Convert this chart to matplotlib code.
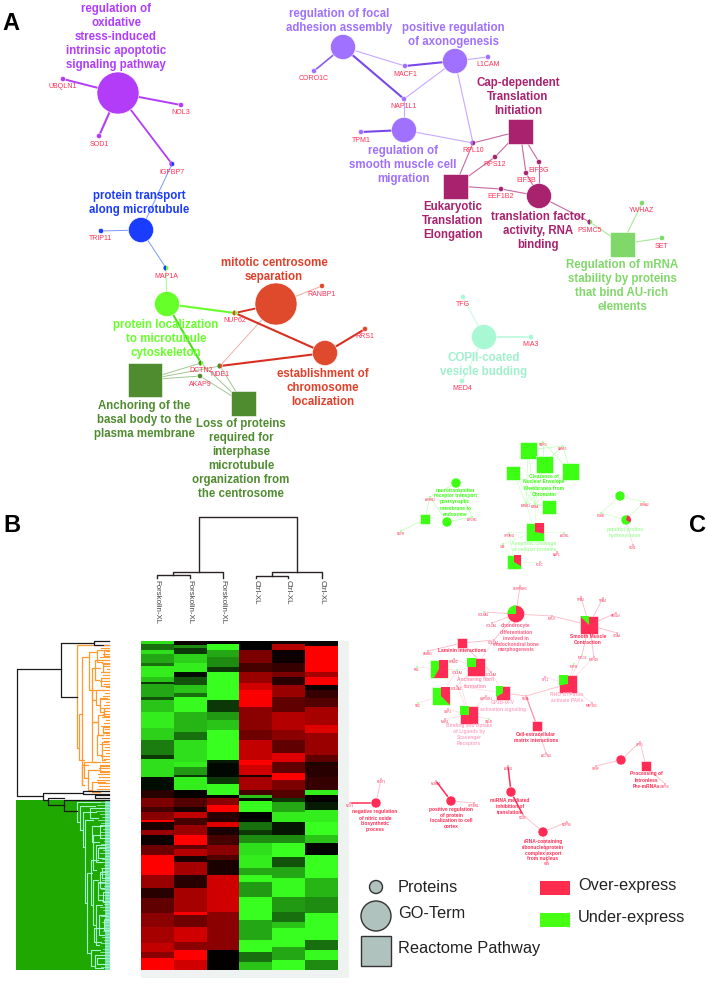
import numpy as np
import matplotlib
matplotlib.use('Agg')
import matplotlib.pyplot as plt
from matplotlib.colors import LinearSegmentedColormap
from matplotlib.patches import Circle, Rectangle, Wedge

plt.rcParams['font.family'] = ['Liberation Sans', 'DejaVu Sans']

PINK = '#ff2f55'

# ---- panel A network (picture pixels)
purple = '#b23cf8'
blue = '#1a3cff'
lime = '#66ff2a'
orange_red = '#df4a2c'
olive = '#4f8c30'
violet = '#a070ff'
magenta = '#a8226e'
soft_green = '#80d86a'
mint = '#a8f8d4'

a_terms = [
    ('ox', 118, 93, 21, 'o', purple), ('mt', 141, 230, 12.5, 'o', blue),
    ('loc', 167, 304, 12.5, 'o', lime), ('cen', 276, 304, 21, 'o', orange_red),
    ('chr', 325, 353, 12.5, 'o', orange_red), ('anc', 145, 380, 17, 's', olive),
    ('loss', 243, 403, 12.5, 's', olive), ('foc', 343, 47, 12.5, 'o', violet),
    ('axo', 455, 61, 12.5, 'o', violet), ('smo', 404, 130, 12.5, 'o', violet),
    ('cap', 520, 131, 12.5, 's', magenta), ('euk', 455, 186, 12.5, 's', magenta),
    ('tf', 539, 196, 12.5, 'o', magenta), ('mrna', 622, 244, 12.5, 's', soft_green),
    ('cop', 484, 337, 12.5, 'o', mint),
]
a_proteins = [
    ('UBQLN1', 63, 79, purple, None), ('NOL3', 181, 105, purple, None),
    ('SOD1', 99, 136, purple, None), ('IGFBP7', 172, 164, blue, purple),
    ('TRIP11', 101, 231, blue, None), ('MAP1A', 166, 268, lime, blue),
    ('RANBP1', 322, 286, orange_red, None), ('RRS1', 365, 329, orange_red, None),
    ('NUP62', 235, 313, lime, orange_red), ('DCTN2', 201, 363, lime, olive),
    ('NDE1', 220, 366, orange_red, olive), ('AKAP9', 200, 376, olive, None),
    ('CORO1C', 314, 71, violet, None), ('L1CAM', 488, 57, violet, None),
    ('MACF1', 405, 66, violet, None), ('NAP1L1', 404, 99, violet, None),
    ('TPM1', 361, 132, violet, None), ('RPL10', 473, 143, magenta, violet),
    ('RPS12', 495, 157, magenta, None), ('EIF3G', 539, 162, magenta, None),
    ('EIF3B', 526, 173, magenta, None), ('EEF1B2', 501, 189, magenta, None),
    ('PSMC5', 590, 222, soft_green, magenta), ('YWHAZ', 642, 203, soft_green, None),
    ('SET', 662, 238, soft_green, None), ('TFG', 463, 297, mint, None),
    ('MIA3', 531, 337, mint, None), ('MED4', 462, 381, mint, None),
]
a_edges = [
    ('ox', 'UBQLN1', 1.4, purple), ('ox', 'NOL3', 1.4, purple), ('ox', 'SOD1', 1.5, purple),
    ('ox', 'IGFBP7', 1.3, purple), ('mt', 'IGFBP7', 0.7, '#7d96ff'), ('mt', 'TRIP11', 0.7, '#7d96ff'),
    ('mt', 'MAP1A', 0.7, '#7d96ff'), ('loc', 'MAP1A', 0.9, '#b8f8a0'), ('loc', 'NUP62', 1.5, lime),
    ('loc', 'DCTN2', 1.5, '#4fdd22'), ('cen', 'NUP62', 1.4, '#d83020'), ('cen', 'RANBP1', 0.7, '#f4a898'),
    ('cen', 'NDE1', 0.6, '#f4a0a0'), ('chr', 'NUP62', 1.5, '#d83020'), ('chr', 'NDE1', 1.5, '#d83020'),
    ('chr', 'RRS1', 1.5, '#d83020'), ('anc', 'DCTN2', 0.7, '#a0c890'), ('anc', 'NDE1', 0.7, '#a0c890'),
    ('anc', 'AKAP9', 0.7, '#a0c890'), ('loss', 'DCTN2', 0.7, '#a0c890'), ('loss', 'NDE1', 0.7, '#a0c890'),
    ('loss', 'AKAP9', 0.7, '#a0c890'), ('foc', 'CORO1C', 1.2, '#8a5af0'), ('foc', 'MACF1', 0.8, '#c8a8ff'),
    ('foc', 'NAP1L1', 1.5, '#7848e8'), ('axo', 'MACF1', 1.5, '#7848e8'), ('axo', 'NAP1L1', 0.8, '#c8a8ff'),
    ('axo', 'L1CAM', 0.8, '#c8a8ff'), ('axo', 'RPL10', 0.8, '#c8a8ff'), ('smo', 'NAP1L1', 0.8, '#c8a8ff'),
    ('smo', 'TPM1', 1.5, '#7848e8'), ('smo', 'RPL10', 0.8, '#c8a8ff'), ('cap', 'RPL10', 0.8, '#c868a0'),
    ('cap', 'RPS12', 0.8, '#c868a0'), ('cap', 'EIF3B', 0.8, '#c868a0'), ('cap', 'EIF3G', 0.8, '#c868a0'),
    ('euk', 'RPL10', 0.8, '#c868a0'), ('euk', 'RPS12', 0.8, '#c868a0'), ('euk', 'EEF1B2', 0.8, '#c868a0'),
    ('tf', 'EEF1B2', 0.8, '#c868a0'), ('tf', 'EIF3B', 0.8, '#c868a0'), ('tf', 'EIF3G', 0.8, '#c868a0'),
    ('tf', 'PSMC5', 0.8, '#c868a0'), ('mrna', 'PSMC5', 0.8, '#a8e898'), ('mrna', 'YWHAZ', 0.8, '#a8e898'),
    ('mrna', 'SET', 0.8, '#a8e898'), ('cop', 'TFG', 0.8, '#c8fbe4'), ('cop', 'MIA3', 1.2, '#b8f9dc'),
    ('cop', 'MED4', 0.8, '#c8fbe4'),
]
a_labels = [
    ('regulation of\noxidative\nstress-induced\nintrinsic apoptotic\nsignaling pathway', 116, 37, '#b03cff'),
    ('protein transport\nalong microtubule', 139, 203, '#1a3cff'),
    ('protein localization\nto microtubule\ncytoskeleton', 166, 339, '#66ff2a'),
    ('mitotic centrosome\nseparation', 274, 270, '#e0402a'),
    ('establishment of\nchromosome\nlocalization', 323, 388, '#e0402a'),
    ('Anchoring of the\nbasal body to the\nplasma membrane', 144, 420, '#4f8c30'),
    ('Loss of proteins\nrequired for\ninterphase\nmicrotubule\norganization from\nthe centrosome', 241, 459, '#4f8c30'),
    ('regulation of focal\nadhesion assembly', 339, 21, '#a070ff'),
    ('positive regulation\nof axonogenesis', 453, 35, '#a070ff'),
    ('regulation of\nsmooth muscle cell\nmigration', 403, 165, '#a070ff'),
    ('Cap-dependent\nTranslation\nInitiation', 518, 97, '#a8226e'),
    ('Eukaryotic\nTranslation\nElongation', 453, 221, '#a8226e'),
    ('translation factor\nactivity, RNA\nbinding', 538, 231, '#a8226e'),
    ('Regulation of mRNA\nstability by proteins\nthat bind AU-rich\nelements', 622, 286, '#80d86a'),
    ('COPII-coated\nvesicle budding', 484, 365, '#a0f0cc'),
]

# ---- panel C network
green = '#3cff14'
red = '#ff2d55'

# name, x, y, half size, shape, base colour, wedge start, wedge end, wedge colour
c_terms = [
    ('n1', 456, 483, 5, 'o', green, 0, 0, None), ('n2', 447, 522, 5, 'o', green, 0, 0, None),
    ('n3', 425, 519, 5, 's', green, 0, 0, None), ('k1', 528, 450, 8.5, 's', green, 0, 0, None),
    ('k2', 544, 464, 8.5, 's', green, 0, 0, None), ('k3', 570, 471, 8.5, 's', green, 0, 0, None),
    ('k4', 513, 473, 7, 's', green, 0, 0, None), ('k5', 549, 507, 7, 's', green, 0, 0, None),
    ('ap1', 535, 532, 8.7, 's', green, -90, 10, red), ('ap2', 514, 562, 7, 's', green, -90, 30, red),
    ('pe1', 620, 496, 5, 'o', green, 0, 0, None), ('pe2', 626, 520, 5, 'o', green, -75, 30, red),
    ('ch', 516, 614, 8.7, 'o', red, 180, 270, green), ('sm', 589, 625, 8.7, 's', red, 225, 270, green),
    ('la', 462, 643, 5, 's', red, 0, 0, None), ('sa', 439, 669, 8.7, 's', green, -90, 120, red),
    ('sb', 476, 667, 8.7, 's', red, 180, 270, green), ('sc', 441, 696, 8.7, 's', green, -90, 45, red),
    ('sd', 503, 693, 7, 's', red, 150, 270, green), ('se', 469, 715, 8.7, 's', red, 180, 270, green),
    ('rh', 568, 684, 8.7, 's', red, 170, 270, green), ('ce', 537, 726, 5, 's', red, 0, 0, None),
    ('ni', 376, 803, 5, 'o', red, 0, 0, None), ('pr', 451, 801, 5, 'o', red, 0, 0, None),
    ('mi', 511, 792, 5, 'o', red, 0, 0, None), ('rn', 543, 832, 5, 'o', red, 0, 0, None),
    ('in', 621, 760, 5, 'o', red, 0, 0, None), ('ip', 646, 766, 5, 's', red, 0, 0, None),
]
c_proteins = [
    ('ARRB2', 430, 497, green), ('AP2M1', 472, 517, green), ('EGFR', 401, 531, green),
    ('TMPO', 543, 442, green), ('BANF1', 563, 446, green), ('LMNB1', 526, 503, green),
    ('LMNA', 535, 504, green), ('SPTAN1', 509, 533, green), ('ACIN1', 564, 533, green),
    ('VIM', 503, 544, green), ('BAP1', 557, 552, red), ('PLEC', 540, 562, red),
    ('P4HA2', 644, 502, green), ('P4HB', 601, 513, green), ('CD81', 633, 545, red),
    ('SERPINH1', 520, 586, red), ('COL8A1', 484, 612, green), ('COL2A1', 492, 623, red),
    ('MYL9', 552, 616, red), ('TPM2', 581, 597, red), ('TPM4', 603, 598, red),
    ('TAGLN', 616, 613, red), ('ITGA1', 617, 633, red), ('MYL12', 582, 655, green),
    ('MYH10', 594, 657, red), ('LAMB1', 428, 651, red), ('COL5A1', 494, 640, red),
    ('FN1', 417, 667, green), ('SPARC', 454, 659, red), ('COL1A1', 457, 670, green),
    ('COL4A2', 457, 686, red), ('COL6A3', 491, 672, red), ('HSP90B1', 486, 696, red),
    ('GBP1', 448, 709, red), ('MSR1', 445, 719, red), ('CALR', 489, 719, green),
    ('TNC', 418, 703, green), ('FLNA', 526, 696, red), ('CFL1', 545, 677, red),
    ('MAP2K1', 592, 703, red), ('MYH9', 574, 664, green), ('ACTN4', 546, 753, red),
    ('NOS1', 350, 803, red), ('FLOT1', 381, 779, red), ('NUMA1', 436, 781, red),
    ('SPTBN1', 474, 803, red), ('AGO1', 508, 766, red), ('DDX6', 523, 815, red),
    ('NUP98', 567, 822, red), ('RAN', 547, 861, red), ('UPF1', 640, 742, red),
    ('SRSF', 596, 766, red), ('UAP56', 665, 784, red),
]
c_edges = [
    ('n1', 'ARRB2', 0.5, '#b8ffb0'), ('n2', 'ARRB2', 0.5, '#b8ffb0'), ('n3', 'ARRB2', 0.5, '#b8ffb0'),
    ('n1', 'AP2M1', 0.5, '#b8ffb0'), ('n2', 'AP2M1', 0.5, '#b8ffb0'), ('n3', 'EGFR', 0.5, '#b8ffb0'),
    ('k1', 'TMPO', 0.5, '#b8ffb0'), ('k2', 'TMPO', 0.5, '#b8ffb0'), ('k3', 'TMPO', 0.5, '#b8ffb0'),
    ('k1', 'BANF1', 0.5, '#b8ffb0'), ('k2', 'BANF1', 0.5, '#b8ffb0'), ('k3', 'BANF1', 0.5, '#b8ffb0'),
    ('k1', 'LMNB1', 0.5, '#c8ffc0'), ('k2', 'LMNB1', 0.5, '#c8ffc0'), ('k3', 'LMNB1', 0.5, '#c8ffc0'),
    ('k4', 'LMNB1', 0.5, '#c8ffc0'), ('k5', 'LMNB1', 0.5, '#c8ffc0'), ('k1', 'LMNA', 0.5, '#c8ffc0'),
    ('k2', 'LMNA', 0.5, '#c8ffc0'), ('k3', 'LMNA', 0.5, '#c8ffc0'), ('k4', 'LMNA', 0.5, '#c8ffc0'),
    ('k5', 'LMNA', 0.5, '#c8ffc0'), ('ap1', 'LMNB1', 0.5, '#d8ffd0'), ('ap1', 'LMNA', 0.5, '#d8ffd0'),
    ('ap1', 'SPTAN1', 0.5, '#d8ffd0'), ('ap1', 'ACIN1', 0.5, '#d8ffd0'), ('ap1', 'VIM', 0.5, '#d8ffd0'),
    ('ap1', 'BAP1', 0.5, '#d8ffd0'), ('ap2', 'VIM', 0.5, '#d8ffd0'), ('ap2', 'SPTAN1', 0.5, '#d8ffd0'),
    ('ap2', 'PLEC', 0.5, '#d8ffd0'), ('pe1', 'P4HA2', 0.5, '#c8ffc0'), ('pe1', 'P4HB', 0.5, '#c8ffc0'),
    ('pe2', 'P4HA2', 0.5, '#c8ffc0'), ('pe2', 'P4HB', 0.5, '#c8ffc0'), ('pe2', 'CD81', 0.5, '#ffd0dc'),
    ('ch', 'SERPINH1', 0.6, '#ffb8c8'), ('ch', 'COL8A1', 0.6, '#ffb8c8'), ('ch', 'COL2A1', 0.6, '#ffb8c8'),
    ('ch', 'MYL9', 0.6, '#ffb8c8'), ('ch', 'COL5A1', 0.6, '#ffb8c8'), ('sm', 'MYL9', 0.6, '#ffb8c8'),
    ('sm', 'TPM2', 0.6, '#ffb8c8'), ('sm', 'TPM4', 0.6, '#ffb8c8'), ('sm', 'TAGLN', 0.6, '#ffb8c8'),
    ('sm', 'ITGA1', 0.6, '#ffb8c8'), ('sm', 'MYL12', 0.6, '#ffb8c8'), ('sm', 'MYH10', 0.6, '#ffb8c8'),
    ('la', 'LAMB1', 0.6, '#ffb8c8'), ('la', 'COL5A1', 0.6, '#ffb8c8'), ('la', 'COL6A3', 0.6, '#ffb8c8'),
    ('sa', 'FN1', 0.5, '#ffd8e0'), ('sa', 'SPARC', 0.5, '#ffd8e0'), ('sa', 'COL1A1', 0.5, '#ffd8e0'),
    ('sb', 'SPARC', 0.5, '#ffd8e0'), ('sb', 'COL1A1', 0.5, '#ffd8e0'), ('sb', 'COL6A3', 0.5, '#ffd8e0'),
    ('sb', 'COL4A2', 0.5, '#ffd8e0'), ('sb', 'COL5A1', 0.5, '#ffd8e0'), ('sc', 'TNC', 0.5, '#ffd8e0'),
    ('sc', 'COL1A1', 0.5, '#ffd8e0'), ('sc', 'COL4A2', 0.5, '#ffd8e0'), ('sd', 'COL4A2', 0.5, '#ffd8e0'),
    ('sd', 'FLNA', 0.6, '#ffb8c8'), ('sd', 'COL6A3', 0.5, '#ffd8e0'), ('se', 'COL4A2', 0.5, '#ffd8e0'),
    ('se', 'COL1A1', 0.5, '#ffd8e0'), ('se', 'HSP90B1', 0.5, '#ffd8e0'), ('se', 'GBP1', 0.5, '#ffd8e0'),
    ('se', 'MSR1', 0.5, '#ffd8e0'), ('se', 'CALR', 0.5, '#ffd8e0'), ('rh', 'FLNA', 0.6, '#ffb8c8'),
    ('rh', 'CFL1', 0.5, '#ffd8e0'), ('rh', 'MAP2K1', 0.5, '#ffd8e0'), ('rh', 'MYH9', 0.5, '#ffd8e0'),
    ('rh', 'MYL12', 0.5, '#ffd8e0'), ('rh', 'MYH10', 0.5, '#ffd8e0'), ('ce', 'FLNA', 0.9, '#ff90a8'),
    ('ce', 'ACTN4', 0.6, '#ffb8c8'), ('ni', 'NOS1', 1.1, red), ('ni', 'FLOT1', 0.6, '#ffb8c8'),
    ('pr', 'NUMA1', 1.1, red), ('pr', 'SPTBN1', 0.6, '#ffb8c8'), ('mi', 'AGO1', 1.1, red),
    ('mi', 'DDX6', 1.1, red), ('rn', 'DDX6', 0.6, '#ffb8c8'), ('rn', 'NUP98', 0.6, '#ffb8c8'),
    ('rn', 'RAN', 0.6, '#ffb8c8'), ('in', 'UPF1', 0.6, '#ffb8c8'), ('in', 'SRSF', 0.6, '#ffb8c8'),
    ('ip', 'UPF1', 0.6, '#ffb8c8'), ('ip', 'UAP56', 0.6, '#ffb8c8'),
]
c_labels = [
    ('neurotransmitter\nreceptor transport\npostsynaptic\nmembrane to\nendosome', 455, 502, '#3cff14'),
    ('Clearance of\nNuclear Envelope\nMembranes from\nChromatin', 544, 485, '#3cff14'),
    ('Apoptotic cleavage\nof cellular proteins', 534, 547, '#a8ffa0'),
    ('peptidyl-proline\nhydroxylation', 625, 532, '#a8ffa0'),
    ('chondrocyte\ndifferentiation\ninvolved in\nendochondral bone\nmorphogenesis', 516, 638, '#ff5c80'),
    ('Smooth Muscle\nContraction', 588, 640, '#ff3058'),
    ('Laminin interactions', 462, 651, '#ff2d55'),
    ('Anchoring fibril\nformation', 475, 683, '#ff90b0'),
    ('GP1b-IX-V\nactivation signaling', 503, 706, '#ffa8c4'),
    ('Binding and Uptake\nof Ligands by\nScavenger\nReceptors', 469, 735, '#ffa8c4'),
    ('RHO GTPases\nactivate PAKs', 567, 698, '#ffa8c4'),
    ('Cell-extracellular\nmatrix interactions', 536, 737, '#ff2d55'),
    ('negative regulation\nof nitric oxide\nbiosynthetic\nprocess', 375, 821, '#ff2d55'),
    ('positive regulation\nof protein\nlocalization to cell\ncortex', 451, 818, '#ff2d55'),
    ('miRNA mediated\ninhibition of\ntranslation', 510, 806, '#ff2d55'),
    ('rRNA-containing\nribonucleoprotein\ncomplex export\nfrom nucleus', 543, 850, '#ff2d55'),
    ('Processing of\nIntronless\nPre-mRNAs', 646, 780, '#ff2d55'),
]

# ---- panel B heatmap, bands per column: row where band ends, then value
sample_names = ['Forskolin-XL', 'Forskolin-XL', 'Forskolin-XL', 'Ctrl-XL', 'Ctrl-XL', 'Ctrl-XL']
col1_ends = [3, 9, 13, 22, 25, 36, 41, 43, 56, 59, 71, 87, 99, 114, 118, 136, 149, 157, 166, 171, 179, 181, 189, 194, 204, 214, 234, 247, 257, 272, 286, 302, 311, 317, 329]
col1_vals = [-.8, -.4, -.8, -.6, -.4, -.85, -.7, -.2, -.6, -.3, -.7, -.85, -.75, -.45, -.2, -.8, -.05, .15, .45, .25, .5, .9, .1, .55, .05, .4, 1, .55, .15, .35, .5, .6, .7, .5, 1]
col2_ends = [4, 7, 13, 22, 31, 36, 44, 52, 56, 71, 91, 99, 121, 126, 134, 136, 149, 157, 166, 171, 177, 184, 194, 204, 208, 215, 221, 234, 247, 271, 274, 286, 301, 309, 319, 329]
col2_vals = [.05, -.5, -.2, -.75, -.85, -.05, -.3, -.7, -.4, -.9, -.65, -.4, -.8, -.85, -.55, -.2, -.85, .02, .3, .1, .7, .25, .55, 1, .35, .65, .1, .6, .15, .6, .9, .4, .75, .5, 1, .75]
col3_ends = [3, 9, 16, 26, 31, 59, 71, 79, 89, 119, 122, 136, 143, 154, 157, 164, 171, 181, 186, 194, 204, 214, 219, 234, 251, 271, 309, 329]
col3_vals = [.02, -.9, -.6, -.5, -.2, -.95, -.2, -.55, -.7, -.95, -.1, -.03, -.2, -.9, .02, .5, .95, .15, .8, .1, .25, .5, .3, .1, .75, .75, .5, .01]
col4_ends = [9, 22, 31, 42, 49, 66, 89, 99, 119, 124, 134, 136, 149, 154, 157, 160, 171, 181, 189, 194, 202, 214, 227, 234, 241, 256, 279, 299, 311, 321, 329]
col4_vals = [0, .45, .25, .55, .75, .9, .5, .4, .7, .95, .75, .1, .6, .25, -.7, -.05, -.9, 0, -.4, -.2, -.5, -.8, -.85, -.6, -.9, -.55, -.95, -.6, -.95, -.4, -.7]
col5_ends = [3, 9, 22, 31, 36, 44, 56, 71, 89, 99, 112, 121, 132, 139, 149, 157, 161, 171, 181, 194, 202, 216, 226, 237, 256, 271, 281, 287, 306, 319, 329]
col5_vals = [.05, .65, .05, .2, .45, .15, .55, .35, .65, .5, .35, .8, .35, 1, .45, .3, -.2, -.6, -.85, -.08, -.5, -.95, -.3, -.6, -.9, -.55, -.4, -.7, -.95, -.6, -.95]
col6_ends = [5, 31, 36, 44, 49, 57, 66, 84, 92, 114, 121, 124, 136, 149, 154, 161, 169, 181, 194, 202, 214, 237, 256, 272, 299, 309, 319, 329]
col6_vals = [.05, 1, .6, .9, .05, .2, .3, .6, .8, .55, .35, .1, .15, .2, -.85, .02, -.1, -.85, -.95, -.7, -.02, -.95, -.65, -.5, -.95, -.4, -.9, -.5]

# ---- dendrogram brackets: x, top y, bottom y, top arm end, bottom arm end
orange_brackets = [
    (77, 645, 748, 100, 79), (79, 714, 760, 82, 84), (82, 657, 785, 89, 84), (89, 652, 690, 97, 92),
    (92, 668, 700, 100, 95), (95, 660, 680, 105, 99), (97, 650, 662, 105, 102), (92, 690, 722, 96, 98),
    (96, 690, 705, 104, 100), (100, 698, 712, 107, 104), (98, 715, 735, 104, 103), (92, 722, 762, 97, 100),
    (97, 735, 755, 103, 102), (102, 742, 760, 108, 105), (82, 765, 785, 88, 84), (84, 762, 778, 95, 88),
    (88, 770, 790, 100, 92), (92, 782, 792, 105, 100), (100, 766, 772, 109, 109), (104, 650, 656, 109, 109),
    (103, 664, 672, 109, 109), (101, 678, 686, 109, 109), (104, 708, 716, 109, 109), (103, 727, 733, 109, 109),
]
teal_brackets = [
    (77, 802, 822, 100, 80), (80, 806, 830, 95, 83), (83, 812, 847, 96, 85), (85, 820, 903, 93, 87),
    (87, 873, 953, 92, 91), (91, 860, 905, 98, 93), (93, 835, 870, 100, 96), (96, 845, 862, 105, 102),
    (93, 880, 925, 98, 96), (98, 882, 900, 105, 103), (96, 905, 945, 102, 99), (99, 915, 935, 106, 104),
    (91, 950, 966, 100, 95), (95, 955, 968, 104, 103), (100, 825, 838, 109, 109), (102, 868, 878, 109, 109),
    (103, 892, 902, 109, 109), (104, 920, 930, 109, 109), (90, 808, 818, 104, 98), (92, 826, 842, 102, 99),
    (98, 848, 858, 106, 104), (100, 872, 888, 107, 104), (94, 928, 942, 103, 101), (97, 958, 964, 106, 104),
]
black_brackets = [
    (17, 669, 796, 61, 43), (61, 643, 697, 94, 77), (94, 641, 645, 109, 109), (43, 793, 800, 83, 48),
    (48, 798, 805, 64, 64), (64, 800, 811, 109, 77), (83, 791, 794, 109, 109), (95, 795, 798, 109, 109),
]
orange_leaf_starts = [104, 101, 106, 103, 100, 105, 102, 104, 107, 101, 103, 105, 100, 104, 106, 102, 105, 103, 101, 106, 104, 100, 105, 103, 102, 106, 104, 101, 105, 103, 106, 102, 104, 100, 105, 103, 106, 101, 104, 102, 100, 99, 100, 98, 99, 97, 98, 99, 97]
teal_leaf_starts = [100, 97, 99, 96, 100, 102, 98, 101, 99, 103, 100, 98, 102, 104, 101, 99, 103, 100, 105, 102, 99, 104, 101, 103, 100, 105, 102, 98, 104, 101, 103, 99, 105, 102, 104, 100, 103, 106, 101, 104, 102, 105, 100, 103, 106, 102, 104, 101, 105, 103, 100, 104, 102, 106, 103, 101]

# ---- legend
legend_shapes = [('Proteins', 376, 887, 6.5, 'o'), ('GO-Term', 376, 916, 15, 'o'), ('Reactome Pathway', 376, 951, 15, 's')]
legend_bars = [('Over-express', 881, '#ff2d4d'), ('Under-express', 913, '#46ff14')]

fig = plt.figure(figsize=(7.07, 9.83), dpi=100)
ax = fig.add_axes([0, 0, 1, 1])
ax.set_axis_off()


def draw_node(x, y, half, shape, color, theta1=0, theta2=0, wedge_color=None, z=4):
    if shape == 'o':
        patch = Circle((x, y), half, fc=color, ec='white', lw=0.4, zorder=z)
    else:
        patch = Rectangle((x - half, y - half), 2 * half, 2 * half, fc=color, ec='white', lw=0.4, zorder=z)
    ax.add_patch(patch)
    if wedge_color is not None:
        w = Wedge((x, y), half * 1.6, theta1, theta2, fc=wedge_color, ec='none', zorder=z + 0.1)
        ax.add_patch(w)
        w.set_clip_path(patch)


# panel A
pos = {}
for name, x, y, r, shape, col in a_terms:
    pos[name] = (x, y)
for name, x, y, col, col2 in a_proteins:
    pos[name] = (x, y)
for a, b, lw, col in a_edges:
    ax.plot([pos[a][0], pos[b][0]], [pos[a][1], pos[b][1]], color=col, lw=lw, zorder=2, solid_capstyle='round')
for name, x, y, r, shape, col in a_terms:
    draw_node(x, y, r, shape, col)
for name, x, y, col, col2 in a_proteins:
    draw_node(x, y, 2.6, 'o', col, 90, 270, col2)
    ax.text(x, y + 8, name, color=PINK, fontsize=5, ha='center', va='center', zorder=6)
for txt, x, y, col in a_labels:
    ax.text(x, y, txt, color=col, fontsize=8.3, fontweight='bold', ha='center', va='center',
            linespacing=1.235, zorder=7)

# panel C
pos_c = {}
for row in c_terms:
    pos_c[row[0]] = (row[1], row[2])
for name, x, y, col in c_proteins:
    pos_c[name] = (x, y)
for a, b, lw, col in c_edges:
    ax.plot([pos_c[a][0], pos_c[b][0]], [pos_c[a][1], pos_c[b][1]], color=col, lw=lw, zorder=2)
for name, x, y, half, shape, col, t1, t2, wcol in c_terms:
    draw_node(x, y, half, shape, col, t1, t2, wcol)
for name, x, y, col in c_proteins:
    draw_node(x, y, 1, 'o', col)
    ax.text(x, y + 3.2, name, color=PINK, fontsize=2.2, ha='center', va='center', zorder=6)
for txt, x, y, col in c_labels:
    ax.text(x, y, txt, color=col, fontsize=3.5, fontweight='bold', ha='center', va='center',
            linespacing=1.25, zorder=7)

# panel B heatmap
ax.add_patch(Rectangle((141, 641), 208, 337, fc='#eef3f2', ec='none', zorder=1))
ends_all = [col1_ends, col2_ends, col3_ends, col4_ends, col5_ends, col6_ends]
vals_all = [col1_vals, col2_vals, col3_vals, col4_vals, col5_vals, col6_vals]
matrix = np.zeros((329, 6))
for j in range(6):
    start = 0
    for end, v in zip(ends_all[j], vals_all[j]):
        matrix[start:end, j] = v
        start = end
cmap = LinearSegmentedColormap.from_list('gbr', ['#38ff20', '#000000', '#ff0000'])
ax.imshow(matrix, cmap=cmap, vmin=-0.92, vmax=0.92, aspect='auto', extent=(141, 338, 970, 641),
          interpolation='nearest', zorder=2)

# sample dendrogram
top_x = [[199, 199, 297, 297], [173, 173, 223, 223], [157, 157, 190, 190], [272, 272, 322, 322], [256, 256, 288, 288]]
top_y = [[572, 517, 517, 572], [575, 572, 572, 578], [578, 575, 575, 578], [576, 572, 572, 578], [578, 576, 576, 578]]
for xs, ys in zip(top_x, top_y):
    ax.plot(xs, ys, color='#2a2226', lw=1.0, zorder=3)
sample_x = [157, 190, 223, 256, 288, 322]
for name, x in zip(sample_names, sample_x):
    ax.text(x, 580, name, rotation=270, color='#444444', fontsize=5.7, ha='center', va='top', zorder=3)

# row dendrogram
ax.add_patch(Rectangle((16, 800), 94, 170, fc='#1fa800', ec='none', zorder=1))
ax.add_patch(Rectangle((105, 800), 5, 170, fc='#78e0b0', ec='none', zorder=1.1))


def draw_brackets(rows, col, lw):
    for x, y0, y1, xr0, xr1 in rows:
        ax.plot([xr0, x, x, xr1], [y0, y0, y1, y1], color=col, lw=lw, zorder=3)


draw_brackets(orange_brackets, '#ff9a30', 0.9)
draw_brackets(teal_brackets, '#a0f5d4', 0.8)
draw_brackets(black_brackets, '#1a1a1a', 0.9)
for i, s in enumerate(orange_leaf_starts):
    ax.plot([s, 109], [645 + i * 3, 645 + i * 3], color='#ff9a30', lw=0.8, zorder=3)
for i, s in enumerate(teal_leaf_starts):
    ax.plot([s, 110], [802 + i * 3, 802 + i * 3], color='#b8f8dc', lw=0.5, zorder=3)

# legend
for name, x, y, half, shape in legend_shapes:
    if shape == 'o':
        ax.add_patch(Circle((x, y), half, fc='#b0c2be', ec='#333333', lw=1, zorder=4))
    else:
        ax.add_patch(Rectangle((x - half, y - half), 2 * half, 2 * half, fc='#b0c2be', ec='#333333', lw=1, zorder=4))
ax.text(398, 887, 'Proteins', fontsize=11.8, color='#222222', va='center')
ax.text(398, 914, 'GO-Term', fontsize=11.8, color='#222222', va='center')
ax.text(398, 949, 'Reactome Pathway', fontsize=11.8, color='#222222', va='center')
for name, y, col in legend_bars:
    ax.add_patch(Rectangle((540, y), 30, 14, fc=col, ec='none', zorder=4))
    ax.text(578, y + 4.5, name, fontsize=11.8, color='#222222', va='center')

# panel letters
ax.text(2, 30, 'A', fontsize=17, fontweight='bold', color='black', va='baseline')
ax.text(3, 532, 'B', fontsize=17, fontweight='bold', color='black', va='baseline')
ax.text(689, 532, 'C', fontsize=17, fontweight='bold', color='black', va='baseline')

ax.set_xlim(0, 707)
ax.set_ylim(983, 0)
fig.savefig('out.png', dpi=100)
